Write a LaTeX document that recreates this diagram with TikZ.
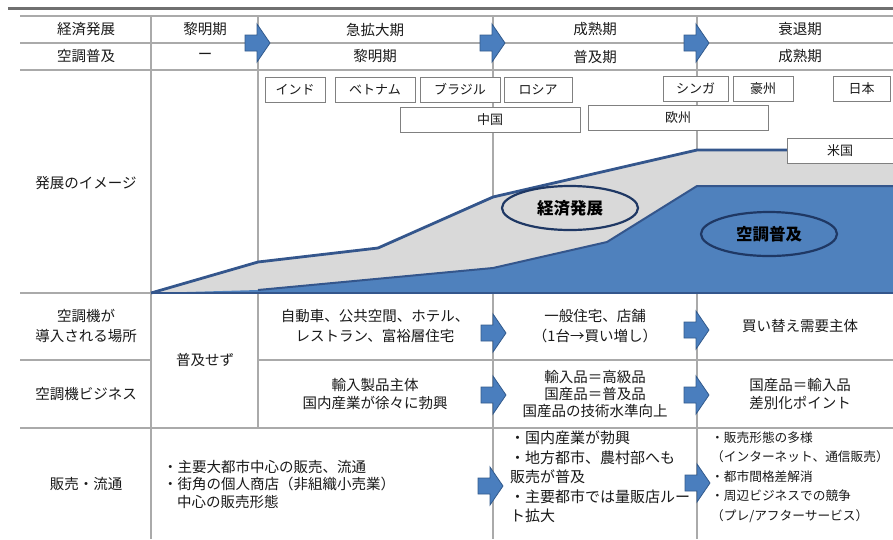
\documentclass[tikz,border=0pt]{standalone}
\usepackage{fontspec}
\setmainfont{Noto Sans CJK JP}
\usetikzlibrary{shapes.geometric}
\definecolor{gridgray}{RGB}{170,170,170}
\definecolor{topgray}{RGB}{112,112,112}
\definecolor{areagray}{RGB}{217,217,217}
\definecolor{areablue}{RGB}{79,129,189}
\definecolor{edgeblue}{RGB}{52,86,140}
\definecolor{navy}{RGB}{31,56,100}
\definecolor{arrfill}{RGB}{74,126,190}
\definecolor{arredge}{RGB}{50,90,140}
\definecolor{txt}{RGB}{25,25,25}
\begin{document}
\begin{tikzpicture}[x=1pt,y=-1pt,
  grid/.style={draw=gridgray,line width=1.6pt},
  cell/.style={inner sep=0pt,align=center,text=txt,font=\fontsize{14.5}{20}\selectfont},
  cbox/.style={draw=gray,fill=white,line width=0.9pt,inner sep=0pt,minimum height=25pt,text=txt,font=\fontsize{13}{15}\selectfont},
  ell/.style={ellipse,draw=navy,line width=2.2pt,inner sep=0pt,minimum width=136pt,minimum height=44pt,text=black,font=\fontsize{16.5}{18}\selectfont\bfseries},
  barrow/.pic={\draw[fill=arrfill,draw=arredge,line width=0.8pt,line join=miter]
     (-13,-8) -- (-1,-8) -- (-1,-19) -- (12,0) -- (-1,19) -- (-1,8) -- (-13,8) -- cycle;}
]
\useasboundingbox (0,0) rectangle (893,539);
\clip (0,0) rectangle (893,539);
% top rule
\draw[draw=topgray,line width=3pt] (8,8) -- (893,8);
% horizontal grid lines
\draw[grid] (20,16) -- (893,16);
\draw[grid] (20,43) -- (893,43);
\draw[grid] (20,70) -- (893,70);
\draw[grid] (20,293) -- (893,293);
\draw[grid] (20,360) -- (151,360);
\draw[grid] (258,360) -- (893,360);
\draw[grid] (20,428) -- (893,428);
% vertical grid lines
\draw[grid] (151,16) -- (151,539);
\draw[grid] (258,16) -- (258,428);
\draw[grid] (493,16) -- (493,539);
\draw[grid] (697,16) -- (697,539);
% chart areas
\fill[areagray] (151,293) -- (258,262) -- (378,248) -- (493,197) -- (697,150) -- (900,150) -- (900,293) -- cycle;
\fill[areablue] (151,293) -- (258,290) -- (493,268) -- (607,242) -- (697,186) -- (900,186) -- (900,293) -- cycle;
\draw[edgeblue,line width=2.8pt,line join=round] (151,293) -- (258,262) -- (378,248) -- (493,197) -- (697,150) -- (900,150);
\draw[edgeblue,line width=2pt,line join=round] (258,290) -- (493,268) -- (607,242) -- (697,186) -- (900,186);
\draw[edgeblue,line width=2.8pt] (151,293) -- (893,293);
% ellipses
\node[ell,fill=areagray] (econ) at (570,208) {経済発展};
\node[ell,fill=areablue] (ac) at (769,234) {空調普及};
% country boxes
\node[cbox,minimum width=60pt] (india) at (295,89.5) {インド};
\node[cbox,minimum width=80pt] (vietnam) at (375,89.5) {ベトナム};
\node[cbox,minimum width=80pt] (brazil) at (460,89.5) {ブラジル};
\node[cbox,minimum width=68pt] (russia) at (538,89.5) {ロシア};
\node[cbox,minimum width=180pt] (china) at (490,119.5) {中国};
\node[cbox,minimum width=180pt] (europe) at (678,118) {欧州};
\node[cbox,minimum width=65pt] (singa) at (695.5,88.5) {シンガ};
\node[cbox,minimum width=60pt] (aus) at (763,88.5) {豪州};
\node[cbox,minimum width=57pt] (japan) at (861.5,88.5) {日本};
\node[cbox,minimum width=106pt] (usa) at (840,151) {米国};
% header rows
\node[cell] (r1c0) at (86,29.5) {経済発展};
\node[cell] (r1c1) at (205,29.5) {黎明期};
\node[cell] (r1c2) at (375,29.5) {急拡大期};
\node[cell] (r1c3) at (595,29.5) {成熟期};
\node[cell] (r1c4) at (800,29.5) {衰退期};
\node[cell] (r2c0) at (86,56.5) {空調普及};
\node[cell] (r2c1) at (205,56.5) {ー};
\node[cell] (r2c2) at (375,56.5) {黎明期};
\node[cell] (r2c3) at (595,56.5) {普及期};
\node[cell] (r2c4) at (800,56.5) {成熟期};
% left labels
\node[cell] (l3) at (86,183) {発展のイメージ};
\node[cell] (l4) at (86,326) {空調機が\\導入される場所};
\node[cell] (l5) at (86,394) {空調機ビジネス};
\node[cell] (l6) at (86,484) {販売・流通};
% body cells
\node[cell] (none) at (205,360) {普及せず};
\node[cell] (p2) at (375,326) {自動車、公共空間、ホテル、\\レストラン、富裕層住宅};
\node[cell] (p3) at (595,326) {一般住宅、店舗\\（1台→買い増し）};
\node[cell] (p4) at (800,326) {買い替え需要主体};
\node[cell,font=\fontsize{14.5}{18}\selectfont] (b2) at (375,394) {輸入製品主体\\国内産業が徐々に勃興};
\node[cell,font=\fontsize{14.5}{17}\selectfont] (b3) at (595,394) {輸入品＝高級品\\国産品＝普及品\\国産品の技術水準向上};
\node[cell,font=\fontsize{14.5}{18}\selectfont] (b4) at (800,394) {国産品＝輸入品\\差別化ポイント};
\node[cell,align=left,anchor=west,font=\fontsize{14.5}{17.5}\selectfont] (s2) at (163,484)
  {・主要大都市中心の販売、流通\\・街角の個人商店（非組織小売業）\\\hspace*{14pt}中心の販売形態};
\node[cell,align=left,anchor=west,font=\fontsize{15}{19.5}\selectfont] (s3) at (510,477)
  {・国内産業が勃興\\・地方都市、農村部へも\\販売が普及\\・主要都市では量販店ルー\\ト拡大};
\node[cell,align=left,anchor=west,font=\fontsize{12.7}{19.5}\selectfont] (s4) at (711,477)
  {・販売形態の多様\\（インターネット、通信販売）\\・都市間格差解消\\・周辺ビジネスでの競争\\（プレ/アフターサービス）};
% block arrows
\pic at (258,43) {barrow};
\pic at (493,43) {barrow};
\pic at (697,43) {barrow};
\pic at (494,333) {barrow};
\pic at (697,330) {barrow};
\pic at (494,395) {barrow};
\pic at (697,395) {barrow};
\pic at (491,486) {barrow};
\pic at (698,483) {barrow};
\end{tikzpicture}
\end{document}
